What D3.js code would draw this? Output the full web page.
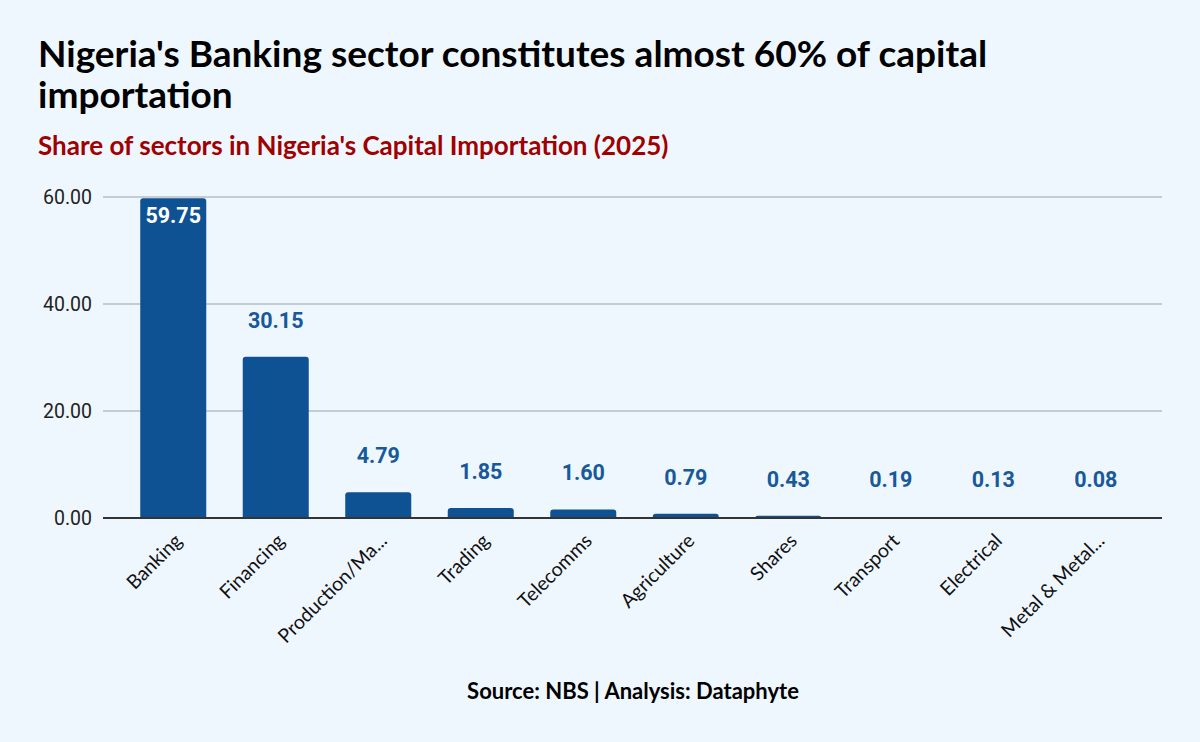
<!DOCTYPE html>
<html lang="en">
<head>
    <meta charset="utf-8">
    <title>Capital importation by sector</title>
    <script src="https://cdn.jsdelivr.net/npm/d3@7"></script>
    <style>
        html, body { margin: 0; padding: 0; background: #eff7fe; }
        svg { display: block; }
    </style>
</head>
<body>
    <div id="chart"></div>
    <script>
        // data
        const sectors = ["Banking", "Financing", "Production/Ma...", "Trading", "Telecomms",
            "Agriculture", "Shares", "Transport", "Electrical", "Metal & Metal..."];
        const shares = [59.75, 30.15, 4.79, 1.85, 1.60, 0.79, 0.43, 0.19, 0.13, 0.08];
        const yTicks = [0, 20, 40, 60];

        const width = 1200, height = 742;
        const barColor = "#0e5294", labelColor = "#18599b";
        const sans = "Lato, 'Open Sans', sans-serif";

        const svg = d3.select("#chart").append("svg")
            .attr("width", width)
            .attr("height", height);

        svg.append("rect").attr("width", width).attr("height", height).attr("fill", "#eff7fe");

        // titles (two lines)
        const titleLines = ["Nigeria's Banking sector constitutes almost 60% of capital", "importation"];
        svg.append("g")
            .selectAll("text")
            .data(titleLines)
            .join("text")
            .attr("x", 38)
            .attr("y", (d, i) => 67 + i * 41)
            .style("font-family", sans)
            .style("font-weight", "bold")
            .style("font-size", "37px")
            .attr("fill", "#000")
            .text(d => d);

        svg.append("text")
            .attr("x", 38).attr("y", 155)
            .style("font-family", sans)
            .style("font-weight", "bold")
            .style("font-size", "26px")
            .attr("fill", "#a00000")
            .text("Share of sectors in Nigeria's Capital Importation (2025)");

        // scales
        const x = d3.scaleBand()
            .domain(sectors)
            .range([122, 1147])
            .paddingInner(0.356)
            .paddingOuter(0.178);

        const y = d3.scaleLinear()
            .domain([0, 60])
            .range([518, 197]);

        const gridLeft = 103, gridRight = 1162;

        // gridlines
        svg.append("g")
            .selectAll("line")
            .data(yTicks.filter(d => d > 0))
            .join("line")
            .attr("x1", gridLeft).attr("x2", gridRight)
            .attr("y1", d => y(d)).attr("y2", d => y(d))
            .attr("stroke", "#b6bec8")
            .attr("stroke-width", 1.5);

        // y axis labels
        const yAxis = svg.append("g")
            .attr("transform", `translate(${gridLeft},0)`)
            .call(d3.axisLeft(y).tickValues(yTicks).tickFormat(d3.format(".2f")).tickSize(0).tickPadding(11));
        yAxis.select(".domain").remove();
        yAxis.selectAll("text")
            .style("font-family", "Roboto, sans-serif")
            .style("font-size", "19.5px")
            .attr("fill", "#222");

        // bars with rounded top corners
        const r = 3;
        function barPath(d, i) {
            const x0 = x(sectors[i]), w = x.bandwidth();
            const y0 = y(d), y1 = y(0);
            const rr = Math.min(r, (y1 - y0));
            return `M${x0},${y1}V${y0 + rr}Q${x0},${y0} ${x0 + rr},${y0}H${x0 + w - rr}Q${x0 + w},${y0} ${x0 + w},${y0 + rr}V${y1}Z`;
        }
        svg.append("g")
            .selectAll("path")
            .data(shares)
            .join("path")
            .attr("d", barPath)
            .attr("fill", barColor);

        // value labels
        svg.append("g")
            .selectAll("text")
            .data(shares)
            .join("text")
            .attr("x", (d, i) => x(sectors[i]) + x.bandwidth() / 2)
            .attr("y", d => d > 50 ? y(d) + 25 : Math.min(y(d), y(0) - 2) - 29)
            .attr("text-anchor", "middle")
            .style("font-family", "Roboto, sans-serif")
            .style("font-weight", "bold")
            .style("font-size", "21.5px")
            .attr("fill", d => d > 50 ? "#fff" : labelColor)
            .text(d => d3.format(".2f")(d));

        // x axis baseline
        svg.append("line")
            .attr("x1", gridLeft).attr("x2", gridRight)
            .attr("y1", y(0)).attr("y2", y(0))
            .attr("stroke", "#333")
            .attr("stroke-width", 2);

        // category labels
        svg.append("g")
            .selectAll("text")
            .data(sectors)
            .join("text")
            .attr("transform", d => `translate(${x(d) + x.bandwidth() / 2 + 10},${y(0) + 24}) rotate(-45)`)
            .attr("text-anchor", "end")
            .style("font-family", sans)
            .style("font-size", "19.5px")
            .attr("fill", "#111")
            .text(d => d);

        // source
        svg.append("text")
            .attr("x", 633).attr("y", 699)
            .attr("text-anchor", "middle")
            .style("font-family", sans)
            .style("font-weight", "bold")
            .style("font-size", "22px")
            .attr("fill", "#000")
            .text("Source: NBS | Analysis: Dataphyte");
    </script>
</body>
</html>
